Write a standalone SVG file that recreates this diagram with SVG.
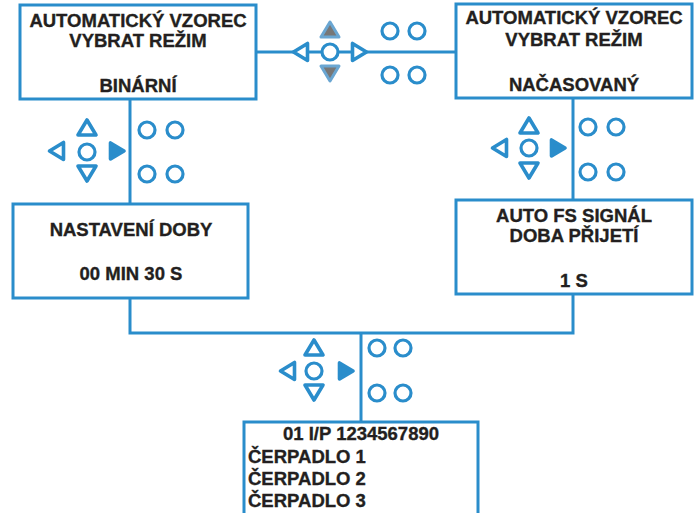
<svg xmlns="http://www.w3.org/2000/svg" width="699" height="513" viewBox="0 0 699 513">
<style>
.box{fill:#fff;stroke:#2a8dcb;stroke-width:3}
.line{fill:none;stroke:#2a8dcb;stroke-width:3}
.t{font-family:"Liberation Sans",Arial,sans-serif;font-weight:bold;font-size:18.5px;fill:#231f20;stroke:#231f20;stroke-width:0.35;text-anchor:middle}
.tl{text-anchor:start}
.o{fill:#fff;stroke:#2a8dcb;stroke-width:3.2;stroke-linejoin:round}
.tr{stroke-width:3.6}
.s{fill:#2a8dcb;stroke:#2a8dcb;stroke-width:3.6;stroke-linejoin:round}
.g{fill:#777;stroke:#6aa6d2;stroke-width:3;stroke-linejoin:round}
</style>
<g id="connectors">
<line class="line" x1="256" y1="52" x2="456" y2="52"/>
<line class="line" x1="130" y1="99" x2="130" y2="204"/>
<line class="line" x1="573" y1="98" x2="573" y2="200"/>
<path class="line" d="M130,298 V333 H573 V295"/>
<line class="line" x1="361" y1="333" x2="361" y2="422"/>
</g>
<g id="node-binarni">
<rect class="box" x="20" y="5" width="236" height="94"/>
<text class="t" x="138" y="27">AUTOMATICKÝ VZOREC</text>
<text class="t" x="138" y="47">VYBRAT REŽIM</text>
<text class="t" x="138" y="92">BINÁRNÍ</text>
</g>
<g id="node-casovany">
<rect class="box" x="456" y="4" width="236" height="94"/>
<text class="t" x="574" y="24">AUTOMATICKÝ VZOREC</text>
<text class="t" x="574" y="46">VYBRAT REŽIM</text>
<text class="t" x="574" y="91">NAČASOVANÝ</text>
</g>
<g id="node-nastaveni">
<rect class="box" x="13" y="204" width="235" height="94"/>
<text class="t" x="131" y="236">NASTAVENÍ DOBY</text>
<text class="t" x="131" y="280">00 MIN 30 S</text>
</g>
<g id="node-fs-signal">
<rect class="box" x="456" y="200" width="236" height="94"/>
<text class="t" x="574" y="222">AUTO FS SIGNÁL</text>
<text class="t" x="574" y="242">DOBA PŘIJETÍ</text>
<text class="t" x="574" y="287">1 S</text>
</g>
<g id="node-cerpadla">
<rect class="box" x="244" y="422" width="234" height="100"/>
<text class="t" x="361" y="440">01 I/P 1234567890</text>
<text class="t tl" x="248" y="463">ČERPADLO 1</text>
<text class="t tl" x="248" y="485">ČERPADLO 2</text>
<text class="t tl" x="248" y="507">ČERPADLO 3</text>
</g>
<g id="keypad-top">
<path class="o tr" d="M293.5,52 L307.5,43.5 L307.5,60.5 Z"/>
<circle class="o" cx="330" cy="52" r="8"/>
<path class="o tr" d="M366.5,52 L352.5,43.5 L352.5,60.5 Z"/>
<path class="g" d="M330,22 L339,37 L321,37 Z"/>
<path class="g" d="M330,81 L339,66 L321,66 Z"/>
<circle class="o" cx="390" cy="31" r="8"/>
<circle class="o" cx="417" cy="31" r="8"/>
<circle class="o" cx="390" cy="75" r="8"/>
<circle class="o" cx="417" cy="75" r="8"/>
</g>
<g id="keypad-left">
<path class="o tr" d="M49.5,151 L63.5,142.5 L63.5,159.5 Z"/>
<circle class="o" cx="87" cy="152" r="8"/>
<path class="s" d="M124,151 L110.5,143 L110.5,159 Z"/>
<path class="o tr" d="M87,120 L96,135 L78,135 Z"/>
<path class="o tr" d="M87,181 L96,166 L78,166 Z"/>
<circle class="o" cx="147" cy="130" r="8"/>
<circle class="o" cx="175" cy="130" r="8"/>
<circle class="o" cx="147" cy="174" r="8"/>
<circle class="o" cx="175" cy="174" r="8"/>
</g>
<g id="keypad-right">
<path class="o tr" d="M492.5,148 L506.5,139.5 L506.5,156.5 Z"/>
<circle class="o" cx="529" cy="148" r="8"/>
<path class="s" d="M565,148 L551.5,140 L551.5,156 Z"/>
<path class="o tr" d="M529,118 L538,133 L520,133 Z"/>
<path class="o tr" d="M529,178 L538,163 L520,163 Z"/>
<circle class="o" cx="588" cy="127" r="8"/>
<circle class="o" cx="616" cy="127" r="8"/>
<circle class="o" cx="588" cy="172" r="8"/>
<circle class="o" cx="616" cy="172" r="8"/>
</g>
<g id="keypad-bottom">
<path class="o tr" d="M280.5,371 L294.5,362.5 L294.5,379.5 Z"/>
<circle class="o" cx="314" cy="371" r="8"/>
<path class="s" d="M353,371 L339.5,363 L339.5,379 Z"/>
<path class="o tr" d="M314,340 L323,355 L305,355 Z"/>
<path class="o tr" d="M314,400 L323,385 L305,385 Z"/>
<circle class="o" cx="377" cy="348" r="8"/>
<circle class="o" cx="403" cy="348" r="8"/>
<circle class="o" cx="377" cy="393" r="8"/>
<circle class="o" cx="403" cy="393" r="8"/>
</g>
</svg>
